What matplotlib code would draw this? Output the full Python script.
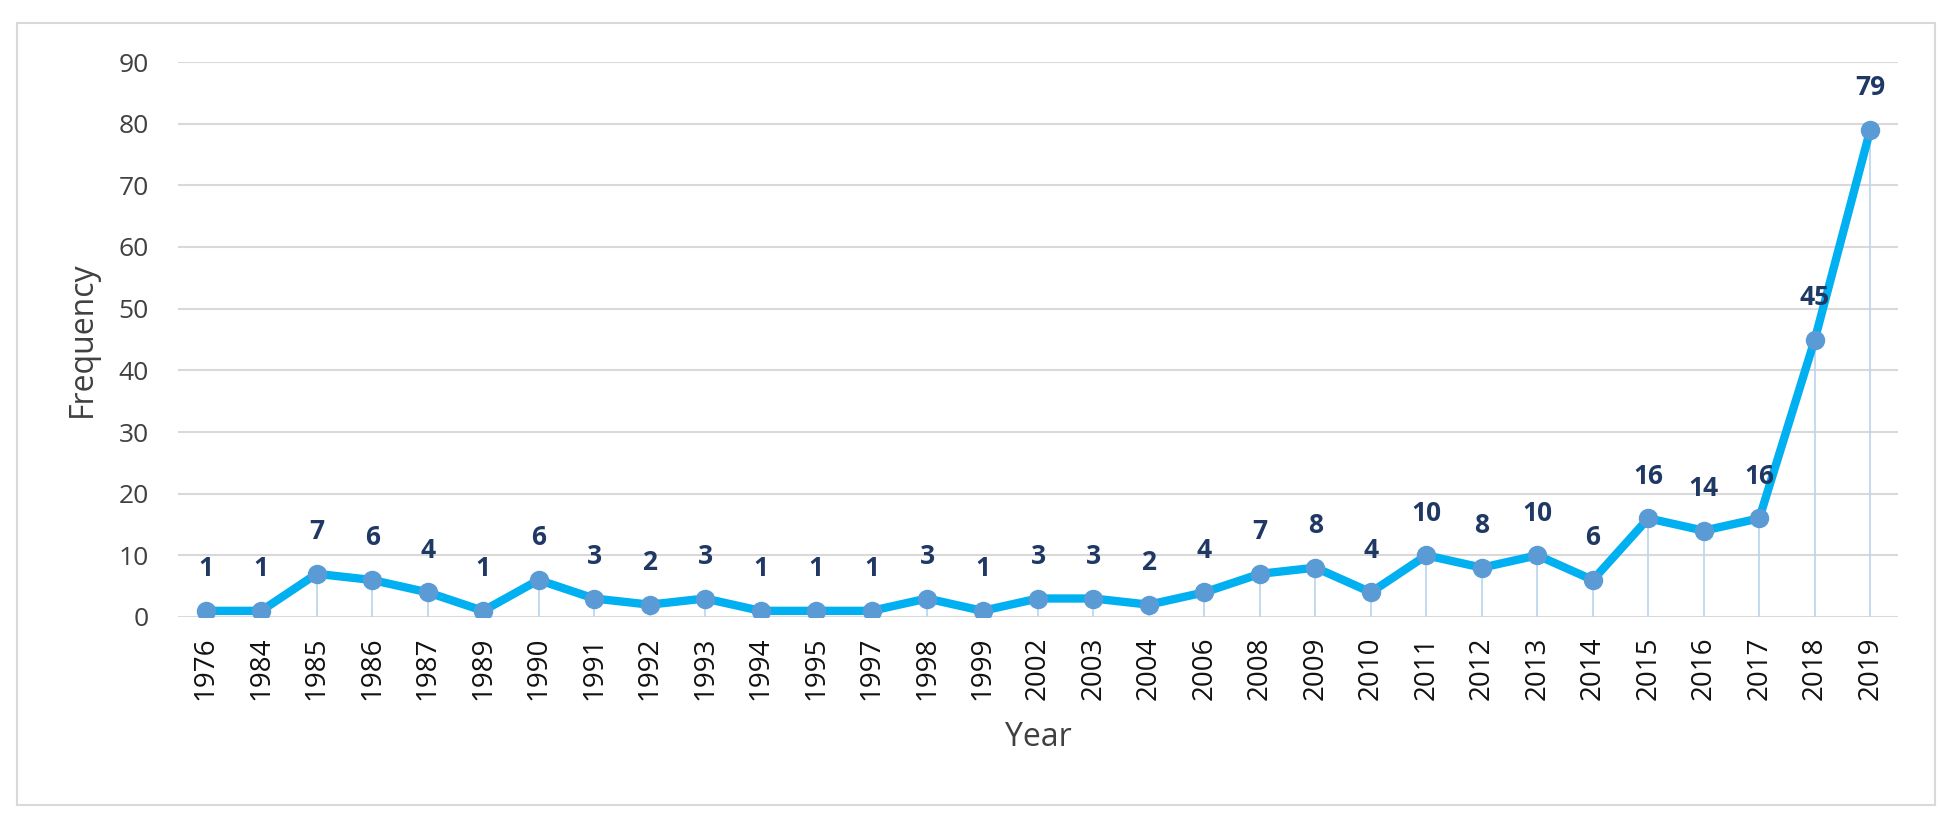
import matplotlib.pyplot as plt
from matplotlib.patches import Rectangle

years = ["1976", "1984", "1985", "1986", "1987", "1989", "1990", "1991", "1992", "1993",
         "1994", "1995", "1997", "1998", "1999", "2002", "2003", "2004", "2006", "2008",
         "2009", "2010", "2011", "2012", "2013", "2014", "2015", "2016", "2017", "2018", "2019"]
freq = [1, 1, 7, 6, 4, 1, 6, 3, 2, 3,
        1, 1, 1, 3, 1, 3, 3, 2, 4, 7,
        8, 4, 10, 8, 10, 6, 16, 14, 16, 45, 79]

plt.rcParams['font.family'] = ['Open Sans', 'DejaVu Sans']

fig = plt.figure(figsize=(19.51, 8.23), dpi=100)
ax = fig.add_axes([178 / 1951, 1 - 617 / 823, (1898 - 178) / 1951, (617 - 62) / 823])

# outer frame
fig.patches.append(Rectangle((17 / 1951, 1 - 805 / 823), (1935 - 17) / 1951, (805 - 23) / 823,
                             transform=fig.transFigure, fill=False, edgecolor="#d9d9d9", lw=1.5))

x = list(range(len(years)))
ax.vlines(x, 0, freq, color="#bdd7ee", lw=1.3, zorder=1)
ax.plot(x, freq, color="#00b0f0", lw=6, zorder=2, solid_joinstyle="round")
ax.plot(x, freq, "o", color="#5b9bd5", markersize=13, zorder=3)

for xi, v in zip(x, freq):
    ax.annotate(str(v), (xi, v), xytext=(0, 25), textcoords="offset points",
                ha="center", va="baseline", fontsize=19, fontweight="bold", color="#1f3864")

ax.set_xlim(-0.5, len(years) - 0.5)
ax.set_ylim(0, 90)
ax.set_yticks(range(0, 91, 10))
ax.set_xticks(x)
ax.set_xticklabels(years, rotation=90, fontsize=20)
ax.tick_params(axis="y", labelsize=19, length=0, pad=21, colors="#404040")
ax.tick_params(axis="x", length=0, pad=14, colors="#111111")
ax.grid(axis="y", color="#d9d9d9", lw=1.5)
ax.set_axisbelow(True)
for s in ax.spines.values():
    s.set_visible(False)

ax.set_xlabel("Year", fontsize=23, color="#404040")
ax.set_ylabel("Frequency", fontsize=23, color="#404040")
ax.xaxis.set_label_coords(0.5, -0.187)
ax.yaxis.set_label_coords(-0.046, 0.5)

fig.savefig("out.png", dpi=100)
